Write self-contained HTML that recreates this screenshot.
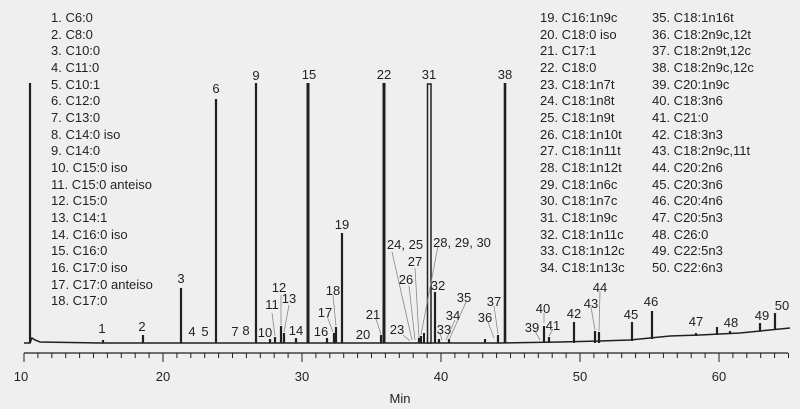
<!DOCTYPE html>
<html><head><meta charset="utf-8"><style>
html,body{margin:0;padding:0;background:#efefef;}
svg{display:block;}
text{font-family:"Liberation Sans",sans-serif;font-size:13px;fill:#231f20;}
</style></head><body>
<svg width="800" height="409" viewBox="0 0 800 409" xmlns="http://www.w3.org/2000/svg">
<rect width="800" height="409" fill="#efefef"/>
<g>
<text x="51" y="22">1. C6:0</text>
<text x="51" y="39">2. C8:0</text>
<text x="51" y="55">3. C10:0</text>
<text x="51" y="72">4. C11:0</text>
<text x="51" y="89">5. C10:1</text>
<text x="51" y="105">6. C12:0</text>
<text x="51" y="122">7. C13:0</text>
<text x="51" y="139">8. C14:0 iso</text>
<text x="51" y="155">9. C14:0</text>
<text x="51" y="172">10. C15:0 iso</text>
<text x="51" y="189">11. C15:0 anteiso</text>
<text x="51" y="205">12. C15:0</text>
<text x="51" y="222">13. C14:1</text>
<text x="51" y="239">14. C16:0 iso</text>
<text x="51" y="255">15. C16:0</text>
<text x="51" y="272">16. C17:0 iso</text>
<text x="51" y="289">17. C17:0 anteiso</text>
<text x="51" y="305">18. C17:0</text>
</g>
<g>
<text x="540" y="22">19. C16:1n9c</text>
<text x="540" y="39">20. C18:0 iso</text>
<text x="540" y="55">21. C17:1</text>
<text x="540" y="72">22. C18:0</text>
<text x="540" y="89">23. C18:1n7t</text>
<text x="540" y="105">24. C18:1n8t</text>
<text x="540" y="122">25. C18:1n9t</text>
<text x="540" y="139">26. C18:1n10t</text>
<text x="540" y="155">27. C18:1n11t</text>
<text x="540" y="172">28. C18:1n12t</text>
<text x="540" y="189">29. C18:1n6c</text>
<text x="540" y="205">30. C18:1n7c</text>
<text x="540" y="222">31. C18:1n9c</text>
<text x="540" y="239">32. C18:1n11c</text>
<text x="540" y="255">33. C18:1n12c</text>
<text x="540" y="272">34. C18:1n13c</text>
<text x="652" y="22">35. C18:1n16t</text>
<text x="652" y="39">36. C18:2n9c,12t</text>
<text x="652" y="55">37. C18:2n9t,12c</text>
<text x="652" y="72">38. C18:2n9c,12c</text>
<text x="652" y="89">39. C20:1n9c</text>
<text x="652" y="105">40. C18:3n6</text>
<text x="652" y="122">41. C21:0</text>
<text x="652" y="139">42. C18:3n3</text>
<text x="652" y="155">43. C18:2n9c,11t</text>
<text x="652" y="172">44. C20:2n6</text>
<text x="652" y="189">45. C20:3n6</text>
<text x="652" y="205">46. C20:4n6</text>
<text x="652" y="222">47. C20:5n3</text>
<text x="652" y="239">48. C26:0</text>
<text x="652" y="255">49. C22:5n3</text>
<text x="652" y="272">50. C22:6n3</text>
</g>
<!-- baseline -->
<polyline fill="none" stroke="#231f20" stroke-width="1.5" points="24,343 30,343 32,338 35,340 40,342 100,343 300,343 500,343 560,342 600,341 630,340 650,338 670,336 700,335 740,333 790,328"/>
<!-- peaks -->
<g stroke="#231f20" stroke-width="2.2">
<line x1="30" y1="343" x2="30" y2="83"/>
<line x1="103" y1="343" x2="103" y2="340"/>
<line x1="143" y1="343" x2="143" y2="335"/>
<line x1="181" y1="343" x2="181" y2="288"/>
<line x1="216" y1="343" x2="216" y2="99"/>
<line x1="256" y1="343" x2="256" y2="83"/>
<line x1="270" y1="343" x2="270" y2="339"/>
<line x1="275" y1="343" x2="275" y2="337"/>
<line x1="281" y1="343" x2="281" y2="326"/>
<line x1="284" y1="343" x2="284" y2="333"/>
<line x1="296" y1="343" x2="296" y2="338"/>
<line x1="308" y1="343" x2="308" y2="83" stroke-width="3"/>
<line x1="327" y1="343" x2="327" y2="338"/>
<line x1="334" y1="343" x2="334" y2="333"/>
<line x1="336" y1="343" x2="336" y2="327"/>
<line x1="342" y1="343" x2="342" y2="233"/>
<line x1="381" y1="343" x2="381" y2="335"/>
<line x1="384" y1="343" x2="384" y2="83" stroke-width="3"/>
<line x1="419" y1="343" x2="419" y2="338"/>
<line x1="421" y1="343" x2="421" y2="336"/>
<line x1="435" y1="343" x2="435" y2="292"/>
<line x1="439" y1="343" x2="439" y2="339"/>
<line x1="449" y1="343" x2="449" y2="339"/>
<line x1="485" y1="343" x2="485" y2="339"/>
<line x1="498" y1="343" x2="498" y2="335"/>
<line x1="505" y1="343" x2="505" y2="83" stroke-width="2.6"/>
<line x1="544" y1="343" x2="544" y2="326"/>
<line x1="549" y1="343" x2="549" y2="337"/>
<line x1="574" y1="343" x2="574" y2="322"/>
<line x1="595" y1="343" x2="595" y2="331"/>
<line x1="599" y1="343" x2="599" y2="332"/>
<line x1="632" y1="341" x2="632" y2="322"/>
<line x1="652" y1="339" x2="652" y2="311"/>
<line x1="696" y1="336" x2="696" y2="333"/>
<line x1="717" y1="335" x2="717" y2="327"/>
<line x1="730" y1="334" x2="730" y2="331"/>
<line x1="760" y1="331" x2="760" y2="323"/>
<line x1="775" y1="330" x2="775" y2="313"/>
</g>
<rect x="427.5" y="84" width="3.5" height="259" fill="#efefef" stroke="#231f20" stroke-width="1.5"/>
<line x1="424" y1="343" x2="424" y2="333" stroke="#231f20" stroke-width="2"/>
<!-- leader lines -->
<g stroke="#888" stroke-width="0.8">
<line x1="272" y1="313" x2="275" y2="336"/>
<line x1="281" y1="295" x2="281" y2="325"/>
<line x1="289" y1="305" x2="284" y2="332"/>
<line x1="327" y1="316" x2="333" y2="332"/>
<line x1="333" y1="295" x2="336" y2="326"/>
<line x1="376" y1="319" x2="381" y2="334"/>
<line x1="403" y1="335" x2="410" y2="341"/>
<line x1="392" y1="252" x2="412" y2="340"/>
<line x1="409" y1="286" x2="415" y2="340"/>
<line x1="415" y1="268" x2="419" y2="338"/>
<line x1="438" y1="246" x2="421" y2="335"/>
<line x1="440" y1="333" x2="442" y2="340"/>
<line x1="455" y1="320" x2="446" y2="340"/>
<line x1="466" y1="302" x2="449" y2="340"/>
<line x1="488" y1="322" x2="494" y2="338"/>
<line x1="494" y1="306" x2="498" y2="334"/>
<line x1="535" y1="331" x2="540" y2="340"/>
<line x1="544" y1="313" x2="544" y2="323"/>
<line x1="553" y1="329" x2="549" y2="336"/>
<line x1="591" y1="307" x2="595" y2="330"/>
<line x1="600" y1="291" x2="599" y2="331"/>
</g>
<!-- labels -->
<g text-anchor="middle">
<text x="102" y="333">1</text>
<text x="142" y="331">2</text>
<text x="181" y="283">3</text>
<text x="192" y="336">4</text>
<text x="205" y="336">5</text>
<text x="216" y="93">6</text>
<text x="235" y="336">7</text>
<text x="246" y="335">8</text>
<text x="256" y="80">9</text>
<text x="265" y="337">10</text>
<text x="272" y="309">11</text>
<text x="279" y="292">12</text>
<text x="289" y="303">13</text>
<text x="296" y="335">14</text>
<text x="309" y="79">15</text>
<text x="321" y="336">16</text>
<text x="325" y="317">17</text>
<text x="333" y="295">18</text>
<text x="342" y="229">19</text>
<text x="363" y="339">20</text>
<text x="373" y="319">21</text>
<text x="384" y="79">22</text>
<text x="397" y="334">23</text>
<text x="405" y="249">24, 25</text>
<text x="406" y="284">26</text>
<text x="415" y="266">27</text>
<text x="462" y="247">28, 29, 30</text>
<text x="429" y="79">31</text>
<text x="438" y="290">32</text>
<text x="444" y="334">33</text>
<text x="453" y="320">34</text>
<text x="464" y="302">35</text>
<text x="485" y="322">36</text>
<text x="494" y="306">37</text>
<text x="505" y="79">38</text>
<text x="532" y="332">39</text>
<text x="543" y="313">40</text>
<text x="553" y="330">41</text>
<text x="574" y="318">42</text>
<text x="591" y="308">43</text>
<text x="600" y="292">44</text>
<text x="631" y="319">45</text>
<text x="651" y="306">46</text>
<text x="696" y="326">47</text>
<text x="731" y="327">48</text>
<text x="762" y="320">49</text>
<text x="782" y="310">50</text>
</g>
<!-- axis -->
<line x1="24" y1="353" x2="788" y2="353" stroke="#231f20" stroke-width="1.2"/>
<g stroke="#231f20" stroke-width="1">
<path d="M24,353v9 M37.9,353v5 M51.8,353v5 M65.7,353v5 M79.6,353v5 M93.5,353v5 M107.4,353v5 M121.3,353v5 M135.2,353v5 M149.1,353v5 M163,353v9 M176.9,353v5 M190.8,353v5 M204.7,353v5 M218.6,353v5 M232.5,353v5 M246.4,353v5 M260.3,353v5 M274.2,353v5 M288.1,353v5 M302,353v9 M315.9,353v5 M329.8,353v5 M343.7,353v5 M357.6,353v5 M371.5,353v5 M385.4,353v5 M399.3,353v5 M413.2,353v5 M427.1,353v5 M441,353v9 M454.9,353v5 M468.8,353v5 M482.7,353v5 M496.6,353v5 M510.5,353v5 M524.4,353v5 M538.3,353v5 M552.2,353v5 M566.1,353v5 M580,353v9 M593.9,353v5 M607.8,353v5 M621.7,353v5 M635.6,353v5 M649.5,353v5 M663.4,353v5 M677.3,353v5 M691.2,353v5 M705.1,353v5 M719,353v9 M732.9,353v5 M746.8,353v5 M760.7,353v5 M774.6,353v5 M788.5,353v5"/>
</g>
<g text-anchor="middle">
<text x="21" y="381">10</text>
<text x="163" y="381">20</text>
<text x="302" y="381">30</text>
<text x="441" y="381">40</text>
<text x="580" y="381">50</text>
<text x="719" y="381">60</text>
<text x="400" y="403">Min</text>
</g>
</svg>
</body></html>
